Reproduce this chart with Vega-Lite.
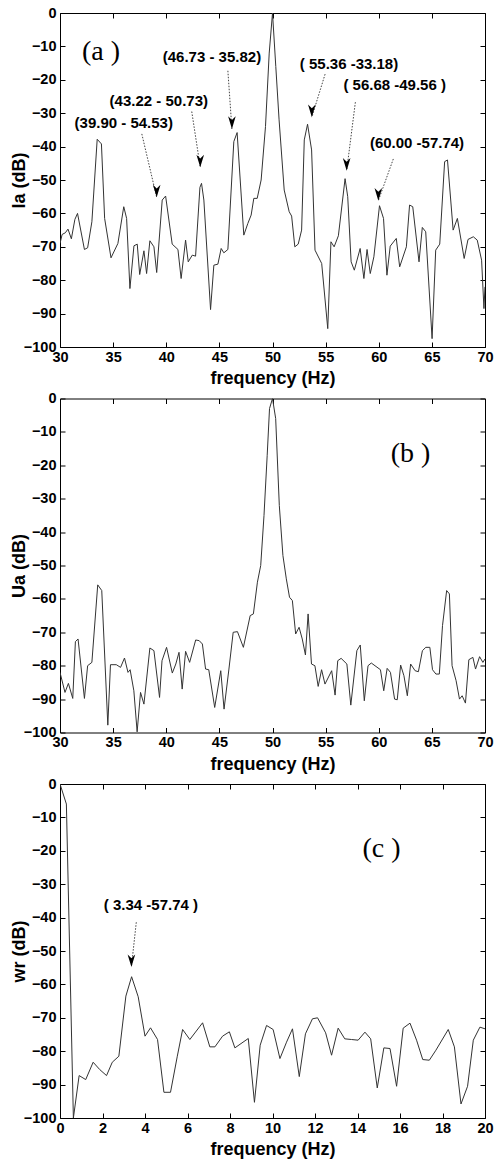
{
"$schema": "https://vega.github.io/schema/vega-lite/v6.json",
"padding": {"left": 9, "top": 4, "right": 4, "bottom": 0},
"bounds": "flush",
"spacing": 51.5,
"datasets": {
"a": [
{"f":30.0,"db":-69},{"f":30.2,"db":-66.3},{"f":30.5,"db":-65.8},{"f":30.75,"db":-64.7},{"f":31.07,"db":-67.6},{"f":31.4,"db":-61.8},{"f":31.65,"db":-60},{"f":32.3,"db":-70.8},{"f":32.6,"db":-70.3},{"f":33.0,"db":-62.5},{"f":33.5,"db":-37.8},{"f":33.9,"db":-39.2},{"f":34.2,"db":-61.5},{"f":34.8,"db":-73.3},{"f":35.45,"db":-69},{"f":36.0,"db":-58},{"f":36.27,"db":-61.5},{"f":36.58,"db":-82.5},{"f":36.96,"db":-69.7},{"f":37.27,"db":-69.2},{"f":37.5,"db":-78.3},{"f":37.9,"db":-71.2},{"f":38.15,"db":-78},{"f":38.46,"db":-68.2},{"f":38.84,"db":-70},{"f":39.1,"db":-77.7},{"f":39.62,"db":-56},{"f":39.94,"db":-54.8},{"f":40.56,"db":-69.2},{"f":41.1,"db":-70.8},{"f":41.4,"db":-79.5},{"f":41.82,"db":-68},{"f":42.07,"db":-74.5},{"f":42.45,"db":-72.5},{"f":42.76,"db":-72.8},{"f":43.17,"db":-52.2},{"f":43.32,"db":-51},{"f":43.54,"db":-56},{"f":44.17,"db":-88.8},{"f":44.48,"db":-75.5},{"f":44.86,"db":-75.2},{"f":45.17,"db":-70.5},{"f":45.42,"db":-71.8},{"f":45.8,"db":-70.8},{"f":46.36,"db":-38.5},{"f":46.67,"db":-35.8},{"f":47.3,"db":-66.5},{"f":47.68,"db":-63},{"f":47.99,"db":-60.5},{"f":48.24,"db":-55.5},{"f":48.56,"db":-55.5},{"f":48.93,"db":-50},{"f":49.34,"db":-34},{"f":49.69,"db":-12},{"f":50.0,"db":0},{"f":50.31,"db":-16},{"f":50.62,"db":-32},{"f":51.1,"db":-53},{"f":51.57,"db":-59.5},{"f":51.8,"db":-60.8},{"f":52.1,"db":-70},{"f":52.42,"db":-69.2},{"f":52.74,"db":-65},{"f":52.99,"db":-38},{"f":53.3,"db":-33.3},{"f":53.68,"db":-41},{"f":54.0,"db":-71},{"f":54.63,"db":-75},{"f":55.2,"db":-94.5},{"f":55.5,"db":-68.5},{"f":55.8,"db":-70},{"f":56.2,"db":-66.7},{"f":56.83,"db":-49.6},{"f":57.08,"db":-55},{"f":57.4,"db":-74.5},{"f":57.7,"db":-77},{"f":58.25,"db":-70.5},{"f":58.6,"db":-79.5},{"f":58.9,"db":-70.8},{"f":59.2,"db":-78},{"f":59.54,"db":-73},{"f":60.07,"db":-57.7},{"f":60.45,"db":-61.5},{"f":60.77,"db":-78.5},{"f":61.08,"db":-69.8},{"f":61.65,"db":-67.5},{"f":61.97,"db":-76},{"f":62.6,"db":-70},{"f":62.9,"db":-57.5},{"f":63.2,"db":-58},{"f":63.79,"db":-74.5},{"f":64.1,"db":-64.2},{"f":64.42,"db":-65.5},{"f":65.02,"db":-97.5},{"f":65.36,"db":-71},{"f":65.74,"db":-69.2},{"f":66.2,"db":-44.5},{"f":66.47,"db":-44},{"f":67.0,"db":-65},{"f":67.4,"db":-61.5},{"f":68.04,"db":-73.5},{"f":68.4,"db":-67.8},{"f":68.9,"db":-67},{"f":69.27,"db":-68},{"f":69.68,"db":-74},{"f":69.9,"db":-88.5},{"f":70.0,"db":-82}
],
"b": [
{"f":30.0,"db":-82},{"f":30.47,"db":-88},{"f":30.79,"db":-85.3},{"f":31.2,"db":-89.8},{"f":31.45,"db":-72.8},{"f":31.7,"db":-72},{"f":32.3,"db":-89.8},{"f":32.6,"db":-80},{"f":33.0,"db":-79},{"f":33.55,"db":-55.8},{"f":33.93,"db":-57.5},{"f":34.5,"db":-97.8},{"f":34.75,"db":-79.7},{"f":35.3,"db":-79.7},{"f":35.7,"db":-80.5},{"f":36.07,"db":-77.7},{"f":36.4,"db":-82},{"f":36.6,"db":-81.2},{"f":36.95,"db":-87.5},{"f":37.26,"db":-99.8},{"f":37.58,"db":-88},{"f":37.9,"db":-91.5},{"f":38.46,"db":-74.7},{"f":38.84,"db":-75.5},{"f":39.37,"db":-89.5},{"f":39.6,"db":-78.5},{"f":40.03,"db":-74.5},{"f":40.57,"db":-82.2},{"f":40.9,"db":-79.5},{"f":41.2,"db":-76},{"f":41.5,"db":-87},{"f":41.82,"db":-75.7},{"f":42.2,"db":-79},{"f":42.77,"db":-72.3},{"f":43.1,"db":-72.5},{"f":43.4,"db":-73.5},{"f":43.7,"db":-81},{"f":44.0,"db":-81.2},{"f":44.56,"db":-92.5},{"f":45.13,"db":-81.5},{"f":45.44,"db":-93},{"f":45.9,"db":-81},{"f":46.3,"db":-70},{"f":46.7,"db":-69.8},{"f":47.26,"db":-74.5},{"f":47.9,"db":-65},{"f":48.2,"db":-64.5},{"f":48.58,"db":-55},{"f":48.89,"db":-50},{"f":49.2,"db":-35},{"f":49.5,"db":-17},{"f":49.72,"db":-3},{"f":50.0,"db":0},{"f":50.3,"db":-6},{"f":50.64,"db":-32},{"f":50.98,"db":-47},{"f":51.3,"db":-54},{"f":51.6,"db":-59.5},{"f":51.87,"db":-60.5},{"f":52.18,"db":-70.5},{"f":52.5,"db":-68.5},{"f":52.8,"db":-72},{"f":53.1,"db":-76.8},{"f":53.35,"db":-64.5},{"f":53.67,"db":-79.5},{"f":53.99,"db":-80},{"f":54.3,"db":-86.2},{"f":54.62,"db":-81.2},{"f":54.94,"db":-85.5},{"f":55.57,"db":-81.5},{"f":55.89,"db":-88.8},{"f":56.14,"db":-78.5},{"f":56.46,"db":-77.8},{"f":57.0,"db":-79.5},{"f":57.37,"db":-91.8},{"f":57.94,"db":-75.5},{"f":58.26,"db":-73.8},{"f":58.64,"db":-90.5},{"f":58.99,"db":-80},{"f":59.3,"db":-79.2},{"f":60.16,"db":-81.2},{"f":60.47,"db":-87.5},{"f":60.79,"db":-80.8},{"f":61.1,"db":-82},{"f":61.49,"db":-90},{"f":61.74,"db":-90.2},{"f":62.06,"db":-79.8},{"f":62.37,"db":-83},{"f":62.69,"db":-89},{"f":63.0,"db":-79.5},{"f":63.42,"db":-81.5},{"f":63.73,"db":-81.8},{"f":64.11,"db":-75.5},{"f":64.43,"db":-74.5},{"f":64.81,"db":-74.5},{"f":65.06,"db":-81.2},{"f":65.38,"db":-82.5},{"f":65.7,"db":-82.5},{"f":66.0,"db":-68},{"f":66.39,"db":-57.5},{"f":66.65,"db":-58.5},{"f":66.9,"db":-80},{"f":67.28,"db":-84.5},{"f":67.6,"db":-90},{"f":67.85,"db":-89},{"f":68.16,"db":-91.2},{"f":68.48,"db":-78.2},{"f":68.86,"db":-77.5},{"f":69.11,"db":-81},{"f":69.49,"db":-77.3},{"f":69.8,"db":-79},{"f":70.0,"db":-78}
],
"c": [
{"f":0,"db":0},{"f":0.3,"db":-6},{"f":0.63,"db":-100},{"f":0.9,"db":-87.3},{"f":1.21,"db":-88.5},{"f":1.56,"db":-83.3},{"f":1.87,"db":-85.5},{"f":2.19,"db":-87.3},{"f":2.46,"db":-83.3},{"f":2.77,"db":-81.5},{"f":3.1,"db":-63.5},{"f":3.37,"db":-57.7},{"f":3.68,"db":-63.7},{"f":4.0,"db":-75.5},{"f":4.26,"db":-73},{"f":4.59,"db":-76.5},{"f":4.89,"db":-92.3},{"f":5.2,"db":-92.3},{"f":5.52,"db":-81.5},{"f":5.77,"db":-73.5},{"f":6.11,"db":-76.5},{"f":6.71,"db":-71.5},{"f":7.05,"db":-78.7},{"f":7.29,"db":-78.7},{"f":7.65,"db":-75.5},{"f":7.97,"db":-74.2},{"f":8.23,"db":-79},{"f":8.86,"db":-76.2},{"f":9.15,"db":-95.3},{"f":9.42,"db":-78.2},{"f":9.72,"db":-72.3},{"f":10.03,"db":-73.5},{"f":10.35,"db":-82.2},{"f":10.66,"db":-77.3},{"f":10.94,"db":-73.3},{"f":11.26,"db":-87.6},{"f":11.55,"db":-74.8},{"f":11.88,"db":-70.3},{"f":12.12,"db":-70},{"f":12.5,"db":-74.5},{"f":12.78,"db":-81.2},{"f":13.09,"db":-73.1},{"f":13.4,"db":-76.3},{"f":13.72,"db":-76.5},{"f":14.03,"db":-76.7},{"f":14.35,"db":-74.3},{"f":14.62,"db":-76.3},{"f":14.93,"db":-91},{"f":15.24,"db":-79},{"f":15.53,"db":-79.2},{"f":15.84,"db":-90.5},{"f":16.15,"db":-73.1},{"f":16.47,"db":-71.6},{"f":16.78,"db":-76.7},{"f":17.07,"db":-82.5},{"f":17.38,"db":-82.7},{"f":17.69,"db":-79.7},{"f":18.27,"db":-73.5},{"f":18.56,"db":-78.7},{"f":18.87,"db":-95.8},{"f":19.18,"db":-90.5},{"f":19.45,"db":-76.7},{"f":19.76,"db":-72.8},{"f":20.0,"db":-73.3}
],
"notesA": [
{"x":44.3,"y":-13.3,"t":"(46.73 - 35.82)"},{"x":57.2,"y":-15.3,"t":"( 55.36 -33.18)"},{"x":61.5,"y":-21.6,"t":"( 56.68 -49.56 )"},{"x":39.3,"y":-26.2,"t":"(43.22 - 50.73)"},{"x":36.0,"y":-32.8,"t":"(39.90 - 54.53)"},{"x":63.6,"y":-38.8,"t":"(60.00 -57.74)"}
],
"arrowsA": [
{"x":45.8,"y":-17.3,"x2":46.18,"y2":-34.7},{"x":54.95,"y":-18.3,"x2":53.7,"y2":-31.2},{"x":57.8,"y":-26.7,"x2":56.98,"y2":-47.2},{"x":42.4,"y":-29.5,"x2":43.2,"y2":-46.2},{"x":37.7,"y":-36.2,"x2":39.1,"y2":-55.2},{"x":61.37,"y":-43.7,"x2":59.96,"y2":-56.2}
],
"labelA": [{"x":33.85,"y":-11.7,"t":"(a )"}],
"labelB": [{"x":63.0,"y":-16.7,"t":"(b )"}],
"labelC": [{"x":15.13,"y":-19.4,"t":"(c )"}],
"notesC": [{"x":4.28,"y":-36.2,"t":"( 3.34 -57.74 )"}],
"arrowsC": [{"x":3.59,"y":-41.4,"x2":3.36,"y2":-54.8}]
},
"vconcat": [
{
"width": 425, "height": 334,
"resolve": {"axis": {"x": "independent", "y": "independent"}},
"layer": [
{"data": {"name": "a"}, "mark": {"type": "line", "stroke": "#333", "strokeWidth": 1, "clip": true},
 "encoding": {
  "x": {"field": "f", "type": "quantitative", "scale": {"domain": [30, 70], "nice": false, "zero": false}, "axis": {"values": [30,35,40,45,50,55,60,65,70], "title": "frequency (Hz)"}},
  "y": {"field": "db", "type": "quantitative", "scale": {"domain": [-100, 0], "nice": false}, "axis": {"values": [0,-10,-20,-30,-40,-50,-60,-70,-80,-90,-100], "title": "Ia (dB)"}}
 }},
{"data": {"name": "arrowsA"}, "mark": {"type": "rule", "stroke": "#444", "strokeWidth": 1, "strokeDash": [1.5, 1.5]},
 "encoding": {"x": {"field": "x", "type": "quantitative", "axis": null}, "y": {"field": "y", "type": "quantitative", "axis": null}, "x2": {"field": "x2"}, "y2": {"field": "y2"}}},
{"data": {"name": "arrowsA"}, "mark": {"type": "point", "shape": "M0,0 L-0.6,-2 L0,-1.4 L0.6,-2 Z", "size": 160, "filled": true, "color": "#000", "opacity": 1},
 "encoding": {"x": {"field": "x2", "type": "quantitative", "axis": null}, "y": {"field": "y2", "type": "quantitative", "axis": null}}},
{"data": {"name": "notesA"}, "mark": {"type": "text", "font": "Liberation Sans", "fontWeight": "bold", "fontSize": 15, "color": "#000", "baseline": "middle"},
 "encoding": {"x": {"field": "x", "type": "quantitative", "axis": null}, "y": {"field": "y", "type": "quantitative", "axis": null}, "text": {"field": "t"}}},
{"data": {"name": "labelA"}, "mark": {"type": "text", "font": "Liberation Serif", "fontSize": 28, "color": "#000", "baseline": "middle"},
 "encoding": {"x": {"field": "x", "type": "quantitative", "axis": {"orient": "top", "labels": false, "title": null, "values": [30,35,40,45,50,55,60,65,70]}}, "y": {"field": "y", "type": "quantitative", "axis": {"orient": "right", "labels": false, "title": null, "values": [0,-10,-20,-30,-40,-50,-60,-70,-80,-90,-100]}}, "text": {"field": "t"}}}
]
},
{
"width": 425, "height": 334,
"resolve": {"axis": {"x": "independent", "y": "independent"}},
"layer": [
{"data": {"name": "b"}, "mark": {"type": "line", "stroke": "#333", "strokeWidth": 1, "clip": true},
 "encoding": {
  "x": {"field": "f", "type": "quantitative", "scale": {"domain": [30, 70], "nice": false, "zero": false}, "axis": {"values": [30,35,40,45,50,55,60,65,70], "title": "frequency (Hz)"}},
  "y": {"field": "db", "type": "quantitative", "scale": {"domain": [-100, 0], "nice": false}, "axis": {"values": [0,-10,-20,-30,-40,-50,-60,-70,-80,-90,-100], "title": "Ua (dB)"}}
 }},
{"data": {"name": "labelB"}, "mark": {"type": "text", "font": "Liberation Serif", "fontSize": 28, "color": "#000", "baseline": "middle"},
 "encoding": {"x": {"field": "x", "type": "quantitative", "axis": {"orient": "top", "labels": false, "title": null, "values": [30,35,40,45,50,55,60,65,70]}}, "y": {"field": "y", "type": "quantitative", "axis": {"orient": "right", "labels": false, "title": null, "values": [0,-10,-20,-30,-40,-50,-60,-70,-80,-90,-100]}}, "text": {"field": "t"}}}
]
},
{
"width": 425, "height": 334,
"resolve": {"axis": {"x": "independent", "y": "independent"}},
"layer": [
{"data": {"name": "c"}, "mark": {"type": "line", "stroke": "#333", "strokeWidth": 1, "clip": true},
 "encoding": {
  "x": {"field": "f", "type": "quantitative", "scale": {"domain": [0, 20], "nice": false, "zero": false}, "axis": {"values": [0,2,4,6,8,10,12,14,16,18,20], "title": "frequency (Hz)"}},
  "y": {"field": "db", "type": "quantitative", "scale": {"domain": [-100, 0], "nice": false}, "axis": {"values": [0,-10,-20,-30,-40,-50,-60,-70,-80,-90,-100], "title": "wr (dB)"}}
 }},
{"data": {"name": "arrowsC"}, "mark": {"type": "rule", "stroke": "#444", "strokeWidth": 1, "strokeDash": [1.5, 1.5]},
 "encoding": {"x": {"field": "x", "type": "quantitative", "axis": null}, "y": {"field": "y", "type": "quantitative", "axis": null}, "x2": {"field": "x2"}, "y2": {"field": "y2"}}},
{"data": {"name": "arrowsC"}, "mark": {"type": "point", "shape": "M0,0 L-0.6,-2 L0,-1.4 L0.6,-2 Z", "size": 160, "filled": true, "color": "#000", "opacity": 1},
 "encoding": {"x": {"field": "x2", "type": "quantitative", "axis": null}, "y": {"field": "y2", "type": "quantitative", "axis": null}}},
{"data": {"name": "notesC"}, "mark": {"type": "text", "font": "Liberation Sans", "fontWeight": "bold", "fontSize": 15, "color": "#000", "baseline": "middle"},
 "encoding": {"x": {"field": "x", "type": "quantitative", "axis": null}, "y": {"field": "y", "type": "quantitative", "axis": null}, "text": {"field": "t"}}},
{"data": {"name": "labelC"}, "mark": {"type": "text", "font": "Liberation Serif", "fontSize": 28, "color": "#000", "baseline": "middle"},
 "encoding": {"x": {"field": "x", "type": "quantitative", "axis": {"orient": "top", "labels": false, "title": null, "values": [0,2,4,6,8,10,12,14,16,18,20]}}, "y": {"field": "y", "type": "quantitative", "axis": {"orient": "right", "labels": false, "title": null, "values": [0,-10,-20,-30,-40,-50,-60,-70,-80,-90,-100]}}, "text": {"field": "t"}}}
]
}
],
"config": {
 "background": "white",
 "view": {"stroke": "#000", "strokeWidth": 1},
 "axis": {"grid": false, "domain": false, "ticks": true, "tickColor": "#000", "tickWidth": 1, "tickSize": -5, "labelFont": "Liberation Sans", "labelFontWeight": "bold", "labelFontSize": 14.5, "labelColor": "#000", "labelFlush": false, "labelOverlap": false, "titleFont": "Liberation Sans", "titleFontWeight": "bold", "titleFontSize": 18, "titleColor": "#000"},
 "axisX": {"labelPadding": 8, "titlePadding": 6},
 "axisY": {"labelPadding": 9, "titlePadding": -5}
}
}
